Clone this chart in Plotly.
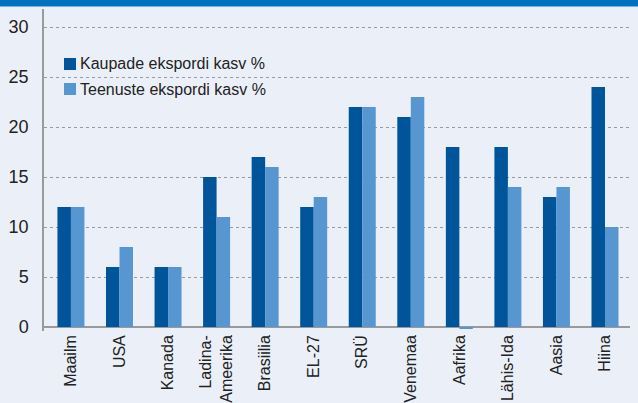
import plotly.graph_objects as go

categories = ["Maailm", "USA", "Kanada", "Ladina-<br>Ameerika", "Brasiilia", "EL-27",
              "SRÜ", "Venemaa", "Aafrika", "Lähis-Ida", "Aasia", "Hiina"]
kaupade = [12, 6, 6, 15, 17, 12, 22, 21, 18, 18, 13, 24]
teenuste = [12, 8, 6, 11, 16, 13, 22, 23, -0.2, 14, 14, 10]
series_names = ["Kaupade ekspordi kasv %", "Teenuste ekspordi kasv %"]
y_ticks = [0, 5, 10, 15, 20, 25, 30]

DARK = "#00559a"
LIGHT = "#5896d2"
BG = "#ebf0f8"
FONT = "Liberation Sans, Arial, sans-serif"
colors = [DARK, LIGHT]

W, H = 638, 403
L, R, T, B = 44, 8, 9, 72
plot_w = W - L - R
plot_h = H - T - B


def px_x(px):
    return (px - L) / plot_w


def px_y(py):
    return 1 - (py - T) / plot_h


fig = go.Figure()
for name, vals, col in zip(series_names, [kaupade, teenuste], colors):
    fig.add_trace(go.Bar(x=categories, y=vals, name=name,
                         marker=dict(color=col, line=dict(width=0))))

shapes = [
    dict(type="rect", xref="paper", yref="paper",
         x0=-0.2, x1=1.2, y0=px_y(6), y1=px_y(-1),
         fillcolor="#0070c0", line=dict(width=0), layer="above"),
    dict(type="rect", xref="paper", yref="paper",
         x0=-0.2, x1=1.2, y0=px_y(7), y1=px_y(6),
         fillcolor="#7fb2e0", line=dict(width=0), layer="above"),
]
annotations = []
legend_rows = [64, 89]
for name, col, cy in zip(series_names, colors, legend_rows):
    shapes.append(dict(type="rect", xref="paper", yref="paper",
                       x0=px_x(64), x1=px_x(76), y0=px_y(cy + 6), y1=px_y(cy - 6),
                       fillcolor=col, line=dict(width=0), layer="above"))
    annotations.append(dict(xref="paper", yref="paper", x=px_x(78), y=px_y(cy),
                            xanchor="left", yanchor="middle", showarrow=False,
                            text=name, font=dict(size=16, color="#222222", family=FONT)))

fig.update_layout(
    width=W, height=H,
    margin=dict(l=L, r=R, t=T, b=B, autoexpand=False),
    paper_bgcolor=BG, plot_bgcolor=BG,
    barmode="group", bargap=0.444, bargroupgap=0,
    font=dict(family=FONT, color="#222222"),
    showlegend=False,
    xaxis=dict(type="category", range=[-0.555, 11.515], tickangle=-90,
               tickfont=dict(size=16, color="#222222"), showgrid=False,
               showline=False, ticks="", ticklabelstandoff=0, fixedrange=True,
               automargin=False),
    yaxis=dict(range=[-0.4, 31.8], tickvals=y_ticks, tickfont=dict(size=18, color="#222222"),
               showgrid=True, gridcolor="#9a9a9a", griddash="dot", gridwidth=1,
               zeroline=True, zerolinecolor="#9a9a9a", zerolinewidth=1.5,
               showline=True, linecolor="#9a9a9a", linewidth=1.5,
               ticks="", ticklabelstandoff=10, fixedrange=True, automargin=False),
    shapes=shapes,
    annotations=annotations,
)

fig.write_html(
    "out.html",
    config={"displayModeBar": False},
    post_script="document.body.style.margin='0';document.body.style.background='%s';" % BG,
)
